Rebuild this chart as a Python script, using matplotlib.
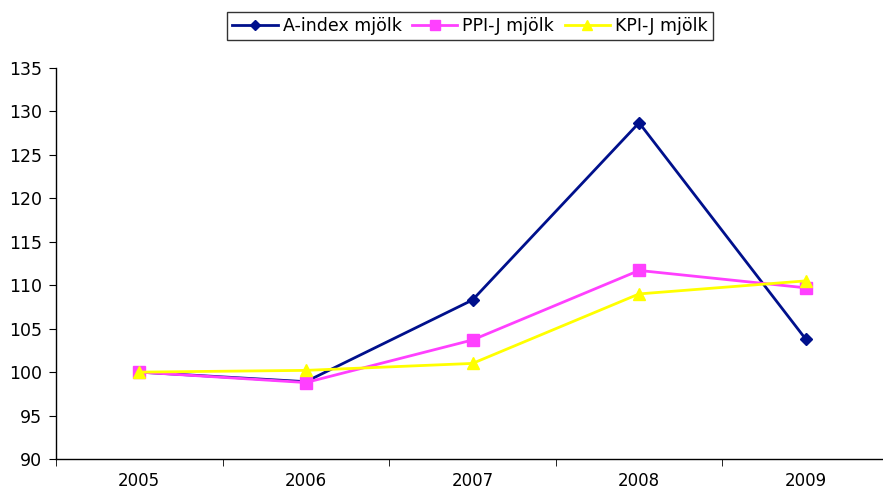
import matplotlib
matplotlib.use("Agg")
import matplotlib.pyplot as plt

years = ["2005", "2006", "2007", "2008", "2009"]
a_index = [100.0, 98.9, 108.3, 128.7, 103.8]
ppi_j = [100.0, 98.8, 103.7, 111.7, 109.7]
kpi_j = [100.0, 100.2, 101.0, 109.0, 110.5]
y_ticks = [90, 95, 100, 105, 110, 115, 120, 125, 130, 135]

plt.rcParams["font.family"] = ["DejaVu Sans"]

W, H = 883, 488
fig = plt.figure(figsize=(W / 100, H / 100), dpi=100)
left, right, top, bottom = 56, 889, 68, 459
ax = fig.add_axes([left / W, 1 - bottom / H, (right - left) / W, (bottom - top) / H])

x = list(range(len(years)))
ax.plot(x, a_index, color="#00108C", lw=2, marker="D", ms=6.5, label="A-index mjölk", zorder=3)
ax.plot(x, ppi_j, color="#FF40FF", lw=2, marker="s", ms=8, label="PPI-J mjölk", zorder=4)
ax.plot(x, kpi_j, color="#FFFF00", lw=2, marker="^", ms=9, label="KPI-J mjölk", zorder=5)

ax.set_xlim(-0.5, len(years) - 0.5)
ax.set_ylim(90, 135)
ax.set_yticks(y_ticks)
ax.set_yticklabels([str(v) for v in y_ticks], fontsize=12.5)
ax.set_xticks(x)
ax.set_xticklabels(years, fontsize=12)
ax.set_xticks([i - 0.5 for i in range(len(years) + 1)], minor=True)
ax.tick_params(axis="x", which="major", length=0, pad=9)
ax.tick_params(axis="x", which="minor", length=5, direction="out")
ax.tick_params(axis="y", length=5, direction="out", pad=5)

for s in ("top", "right"):
    ax.spines[s].set_visible(False)
for s in ("left", "bottom"):
    ax.spines[s].set_linewidth(1)
    ax.spines[s].set_color("black")

leg = fig.legend(loc="center", bbox_to_anchor=(470 / W, 1 - 26 / H), ncol=3,
                 frameon=True, fancybox=False, edgecolor="black", fontsize=12.5,
                 handlelength=2.6, columnspacing=0.6, handletextpad=0.3,
                 borderpad=0.3, markerscale=0.85)
leg.get_frame().set_linewidth(1)

fig.savefig("out.png", dpi=100)
